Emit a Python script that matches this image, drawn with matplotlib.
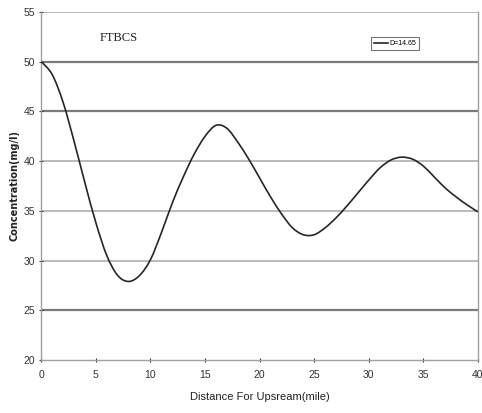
import matplotlib.pyplot as plt
import numpy as np
from matplotlib.path import Path
from matplotlib.patches import PathPatch
from matplotlib.lines import Line2D

plt.rcParams['font.family'] = ['Liberation Sans Narrow', 'Liberation Sans', 'DejaVu Sans']

# concentration along the reach, read every mile
distance = list(range(0, 41))
conc = [50.0, 48.7, 45.9, 42.0, 37.8, 33.8, 30.5, 28.5, 27.9, 28.5,
        30.1, 32.8, 35.8, 38.4, 40.7, 42.5, 43.6, 43.3, 41.9, 40.2,
        38.3, 36.4, 34.7, 33.3, 32.6, 32.6, 33.3, 34.3, 35.5, 36.8,
        38.1, 39.3, 40.1, 40.4, 40.2, 39.5, 38.4, 37.3, 36.4, 35.6,
        34.9]
x_ticks = [0, 5, 10, 15, 20, 25, 30, 35, 40]
y_ticks = [20, 25, 30, 35, 40, 45, 50, 55]
dark_grid = [25, 45, 50]
light_grid = [30, 35, 40, 55]


def smooth_path(xs, ys, k=1.0 / 6):
    # cubic bezier through every point (smoothed line, catmull-rom tangents)
    p = np.column_stack([xs, ys]).astype(float)
    verts = [p[0]]
    codes = [Path.MOVETO]
    n = len(p)
    for i in range(n - 1):
        p0 = p[i - 1] if i > 0 else p[i]
        p3 = p[i + 2] if i + 2 < n else p[i + 1]
        c1 = p[i] + (p[i + 1] - p0) * k
        c2 = p[i + 1] - (p3 - p[i]) * k
        verts += [c1, c2, p[i + 1]]
        codes += [Path.CURVE4] * 3
    return Path(verts, codes)


fig = plt.figure(figsize=(4.82, 4.13), dpi=100)
ax = fig.add_axes([0.0857, 0.1283, 0.9060, 0.8427])

# horizontal grid, some lines heavier than others
for g in light_grid:
    ax.axhline(g, color='#b4b4b4', lw=1.3, zorder=1)
for g in dark_grid:
    ax.axhline(g, color='#7a7a7a', lw=1.6, zorder=1)

curve = PathPatch(smooth_path(distance, conc), facecolor='none',
                  edgecolor='#262626', lw=1.2, zorder=3)
ax.add_patch(curve)

ax.set_xlim(0, 40)
ax.set_ylim(20, 55)
ax.set_xticks(x_ticks)
ax.set_yticks(y_ticks)
ax.tick_params(axis='both', labelsize=7.5, colors='#333333', length=3, width=0.8,
               direction='inout', pad=3)
ax.tick_params(axis='x', pad=6)

for side in ['left', 'bottom', 'right']:
    ax.spines[side].set_color('#a0a0a0')
    ax.spines[side].set_linewidth(1.0)
ax.spines['top'].set_visible(False)

ax.set_xlabel('Distance For Upsream(mile)', fontsize=8, color='#222222', labelpad=8)
ax.set_ylabel('Concentration(mg/l)', fontsize=7, fontweight='bold', color='#222222',
              family=['DejaVu Sans'], labelpad=3)

ax.text(0.178, 0.925, 'FTBCS', transform=ax.transAxes, fontsize=9,
        family=['Liberation Serif', 'DejaVu Serif'], ha='center', va='center', color='#222222')

handle = Line2D([], [], color='#262626', lw=1.2)
leg = ax.legend([handle], ['D=14.65'], loc='upper left', bbox_to_anchor=(0.755, 0.927),
                fontsize=5, frameon=True, fancybox=False, handlelength=2.0,
                handletextpad=0.3, borderpad=0.4, borderaxespad=0)
leg.get_frame().set_edgecolor('#555555')
leg.get_frame().set_linewidth(0.8)

fig.savefig('out.png', dpi=100)
